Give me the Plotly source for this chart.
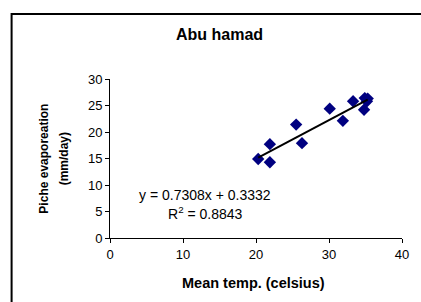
import plotly.graph_objects as go

mean_temp = [20.3, 21.9, 21.9, 25.5, 26.3, 30.1, 31.9, 33.3, 34.8, 34.9, 35.2, 35.3]
piche_evap = [14.9, 17.7, 14.3, 21.4, 17.9, 24.4, 22.1, 25.8, 24.2, 26.4, 25.8, 26.3]
slope = 0.7308
intercept = 0.3332
r2 = 0.8843
x_ticks = [0, 10, 20, 30, 40]
y_ticks = [0, 5, 10, 15, 20, 25, 30]

FONT = "Liberation Sans, Arial, sans-serif"

fig = go.Figure()
fig.add_trace(go.Scatter(
    x=mean_temp, y=piche_evap, mode="markers",
    marker=dict(symbol="diamond", color="#000080", size=9.5, line=dict(width=0)),
    showlegend=False, hoverinfo="skip", cliponaxis=False))
tx = [min(mean_temp), max(mean_temp)]
fig.add_trace(go.Scatter(
    x=tx, y=[slope * v + intercept for v in tx], mode="lines",
    line=dict(color="black", width=2), showlegend=False, hoverinfo="skip"))

axis_common = dict(showgrid=False, zeroline=False, showline=True, linecolor="black",
                   linewidth=1, ticks="outside", ticklen=4, tickcolor="black",
                   tickfont=dict(family=FONT, size=13, color="black"))
fig.update_xaxes(range=[0, 40], tickvals=x_ticks, **axis_common)
fig.update_yaxes(range=[0, 30], tickvals=y_ticks, **axis_common)

ann = dict(xref="paper", yref="paper", showarrow=False, xanchor="center", yanchor="middle")

fig.update_layout(
    width=421, height=302,
    margin=dict(l=110, r=17, t=79, b=64),
    plot_bgcolor="white", paper_bgcolor="white",
    font=dict(family=FONT, color="black"),
    shapes=[dict(type="rect", xref="paper", yref="paper",
                 x0=-0.337, x1=1.1, y0=-0.5, y1=1.409,
                 line=dict(color="black", width=2), fillcolor="rgba(0,0,0,0)")],
    annotations=[
        dict(text="<b>Abu hamad</b>", x=0.374, y=1.277,
             font=dict(size=16, family=FONT), **ann),
        dict(text="<b>Mean temp. (celsius)</b>", x=0.493, y=-0.285,
             font=dict(size=14.5, family=FONT), **ann),
        dict(text="<b>Piche evaporeation</b>",
             x=-0.229, y=0.5, textangle=-90,
             font=dict(size=12, family=FONT), **ann),
        dict(text="<b>(mm/day)</b>",
             x=-0.158, y=0.5, textangle=-90,
             font=dict(size=12, family=FONT), **ann),
        dict(text=f"y = {slope}x + {intercept}", x=0.324, y=0.27,
             font=dict(size=14, family=FONT), **ann),
        dict(text=f"R<sup>2</sup> = {r2}", x=0.327, y=0.157,
             font=dict(size=14, family=FONT), **ann),
    ],
)

fig.write_html("out.html", config={"displayModeBar": False},
               post_script="document.body.style.margin='0';document.body.style.overflow='hidden';")
